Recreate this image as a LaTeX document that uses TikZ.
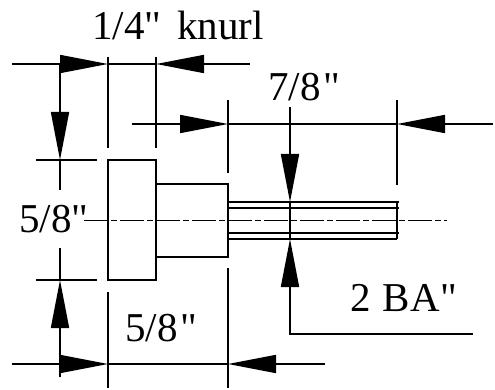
\documentclass[tikz,border=0pt]{standalone}
\usepackage{fontspec}
\newfontfamily\dimfont{Liberation Serif}
\usetikzlibrary{arrows.meta}
\newcommand{\inch}{\kern3pt"}
\tikzset{
    dimline/.style={line width=1.7pt},
    dimarrow/.style={dimline, -{Triangle[length=48pt, width=18pt, sep=0pt]}},
    outline/.style={line width=1.7pt},
    centerline/.style={line width=1.6pt, dash pattern=on 24pt off 3pt on 6pt off 3pt},
    dimlabel/.style={anchor=base west, inner sep=0pt, font=\dimfont\fontsize{41}{41}\selectfont}
}
\begin{document}
\begin{tikzpicture}[x=1pt, y=-1pt]
    \useasboundingbox (0,0) rectangle (495,390);

    % knurl and shank
    \draw[outline] (108,160) rectangle (156,280);
    \draw[outline] (156,184) -- (228,184) -- (228,257) -- (156,257);
    \draw[outline] (228,202) -- (399,202) (228,208) -- (399,208)
                   (228,233) -- (399,233) (228,239) -- (397,239) (397,202) -- (397,239);
    \draw[centerline] (84,220.5) -- (447,220.5);

    % extension lines
    \draw[dimline] (108,57) -- (108,148) (156,57) -- (156,148);
    \draw[dimline] (228,100) -- (228,173) (397,100) -- (397,185);
    \draw[dimline] (36,160) -- (97,160) (36,280) -- (97,280);
    \draw[dimline] (108,292) -- (108,388) (228,268) -- (228,388);

    % dimension lines
    \draw[dimarrow] (12,64) -- (108,64);
    \draw[dimline] (108,64) -- (156,64);
    \draw[dimarrow] (250,64) -- (156,64);
    \draw[dimarrow] (60,64) -- (60,160);
    \draw[dimline] (60,160) -- (60,190);
    \draw[dimarrow] (60,377) -- (60,280);
    \draw[dimline] (60,280) -- (60,248);
    \draw[dimarrow] (132,124) -- (228,124);
    \draw[dimline] (228,124) -- (397,124);
    \draw[dimarrow] (493,124) -- (397,124);
    \draw[dimarrow] (12,364) -- (108,364);
    \draw[dimline] (108,364) -- (228,364);
    \draw[dimarrow] (325,364) -- (228,364);
    \draw[dimarrow] (290,107) -- (290,202);
    \draw[dimline] (290,202) -- (290,239);
    \draw[dimarrow] (473,334) -- (290,334) -- (290,239);

    % labels
    \node[dimlabel] (knurl) at (92,40) {1/4"\hspace{16pt}knurl};
    \node[dimlabel] (thread) at (268,101) {7/8\inch};
    \node[dimlabel] (height) at (19,233) {5/8"};
    \node[dimlabel] (length) at (125,341) {5/8\inch};
    \node[dimlabel] (size) at (350,311) {2\hspace{12pt}BA\kern1pt"};
\end{tikzpicture}
\end{document}
